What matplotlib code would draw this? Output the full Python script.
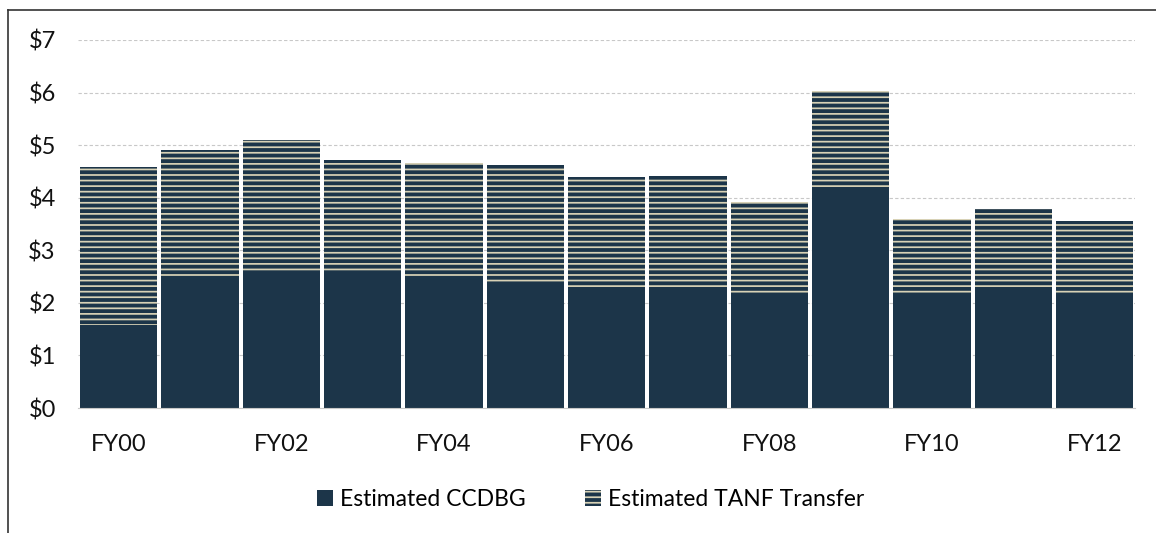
import matplotlib
matplotlib.use("Agg")
import matplotlib.pyplot as plt
from matplotlib.lines import Line2D
import numpy as np

years = ["FY00", "FY01", "FY02", "FY03", "FY04", "FY05", "FY06",
         "FY07", "FY08", "FY09", "FY10", "FY11", "FY12"]
totals = [4.58, 4.91, 5.10, 4.72, 4.66, 4.62, 4.39, 4.41, 3.92, 6.03, 3.60, 3.79, 3.56]
ccdbg = [1.58, 2.45, 2.55, 2.55, 2.45, 2.36, 2.24, 2.24, 2.17, 4.20, 2.17, 2.24, 2.17]
tanf = [t - c for t, c in zip(totals, ccdbg)]

NAVY = "#1c3549"
HATCH = "#d8d2b6"

plt.rcParams["font.family"] = ["Lato", "DejaVu Sans"]
plt.rcParams["hatch.color"] = HATCH
plt.rcParams["hatch.linewidth"] = 1.25

fig = plt.figure(figsize=(11.56, 5.33), dpi=100)
ax = fig.add_axes([0.0675, 0.2345, 0.9145, 0.6905])

x = np.arange(len(years))
ax.bar(x, ccdbg, width=0.95, color=NAVY, linewidth=0, label="Estimated CCDBG", zorder=2)
ax.bar(x, tanf, width=0.95, bottom=ccdbg, color=NAVY, hatch="---",
       edgecolor=HATCH, linewidth=0, label="Estimated TANF Transfer", zorder=2)

ax.set_xlim(-0.5, len(years) - 0.5)
ax.set_ylim(0, 7)
ax.set_yticks(range(8))
ax.set_yticklabels([f"${v}" for v in range(8)])
ax.set_xticks(x[::2])
ax.set_xticklabels(years[::2])
ax.tick_params(axis="both", length=0, labelsize=17, colors="#111111")
ax.tick_params(axis="y", pad=16)
ax.tick_params(axis="x", pad=19)

ax.grid(axis="y", linestyle=(0, (3, 2)), color="#c8c8c8", linewidth=0.8, zorder=0)
for s in ["top", "right", "left"]:
    ax.spines[s].set_visible(False)
ax.spines["bottom"].set_color("#c8c8c8")

ax.legend(loc="center", bbox_to_anchor=(0.485, -0.248), ncol=2, frameon=False,
          fontsize=16.5, handlelength=0.7, handleheight=0.7, handletextpad=0.3,
          columnspacing=2.6)

# outer frame (left and top visible)
fig.add_artist(Line2D([8 / 1156, 8 / 1156], [0, 1 - 10 / 533], color="#333333", lw=1.2))
fig.add_artist(Line2D([8 / 1156, 1], [1 - 10 / 533, 1 - 10 / 533], color="#333333", lw=1.2))

fig.savefig("out.png", dpi=100)
